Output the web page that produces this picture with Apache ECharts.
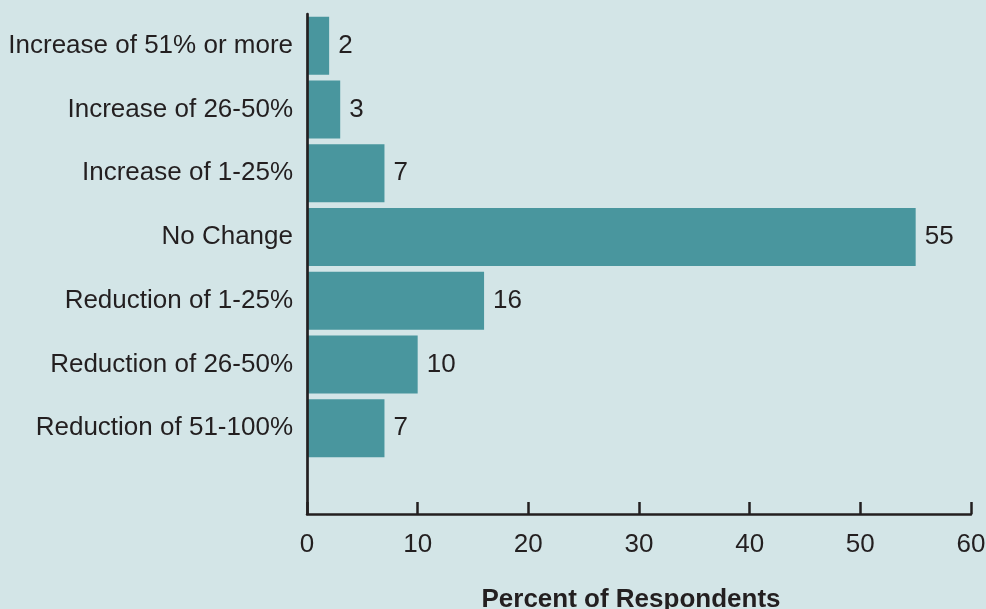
<!DOCTYPE html>
<html>
<head>
<meta charset="utf-8">
<script src="https://cdn.jsdelivr.net/npm/echarts@6/dist/echarts.min.js"></script>
<style>
html,body{margin:0;padding:0;background:#d3e5e7;}
#chart{width:986px;height:609px;}
</style>
</head>
<body>
<div id="chart"></div>
<script>
var categories = [
  'Increase of 51% or more',
  'Increase of 26-50%',
  'Increase of 1-25%',
  'No Change',
  'Reduction of 1-25%',
  'Reduction of 26-50%',
  'Reduction of 51-100%'
];
var values = [2, 3, 7, 55, 16, 10, 7];
var xTicks = { min: 0, max: 60, interval: 10 };
var axisTitle = 'Percent of Respondents';

var textColor = '#231f20';
var fontFamily = 'Liberation Sans';
var fs = 26;
var chart = echarts.init(document.getElementById('chart'));
chart.setOption({
  backgroundColor: '#d3e5e7',
  animation: false,
  grid: [
    { left: 307, right: 15, top: 14, bottom: 149, containLabel: false, outerBoundsMode: 'none' },
    { left: 307, right: 15, top: 14, bottom: 95, containLabel: false, outerBoundsMode: 'none' }
  ],
  xAxis: [{
    gridIndex: 0,
    type: 'value',
    min: xTicks.min, max: xTicks.max, interval: xTicks.interval,
    show: false
  }, {
    gridIndex: 1,
    type: 'value',
    z: 5,
    min: xTicks.min, max: xTicks.max, interval: xTicks.interval,
    splitLine: { show: false },
    axisLine: { show: true, lineStyle: { color: textColor, width: 2.5 } },
    axisTick: { show: true, inside: true, length: 12, lineStyle: { color: textColor, width: 2.5 } },
    axisLabel: { color: textColor, fontSize: fs, fontFamily: fontFamily, margin: 18 },
    name: axisTitle,
    nameLocation: 'middle',
    nameGap: 73,
    nameTextStyle: { color: textColor, fontSize: fs, fontWeight: 'bold', fontFamily: fontFamily, padding: [0, 16, 0, 0] }
  }],
  yAxis: [{
    gridIndex: 0,
    type: 'category',
    data: categories,
    inverse: true,
    axisLine: { show: false },
    axisTick: { show: false },
    axisLabel: { color: textColor, fontSize: fs, fontFamily: fontFamily, margin: 14 },
    splitLine: { show: false }
  }, {
    gridIndex: 1,
    type: 'value',
    z: 5,
    min: 0, max: 1,
    axisLine: { show: true, onZero: false, lineStyle: { color: textColor, width: 2.7 } },
    axisTick: { show: false },
    axisLabel: { show: false },
    splitLine: { show: false }
  }],
  series: [{
    type: 'bar',
    xAxisIndex: 0,
    yAxisIndex: 0,
    data: values,
    barWidth: 58,
    itemStyle: { color: '#49969e' },
    label: {
      show: true, position: 'right', distance: 9,
      color: textColor, fontSize: fs, fontFamily: fontFamily
    }
  }]
});
</script>
</body>
</html>
